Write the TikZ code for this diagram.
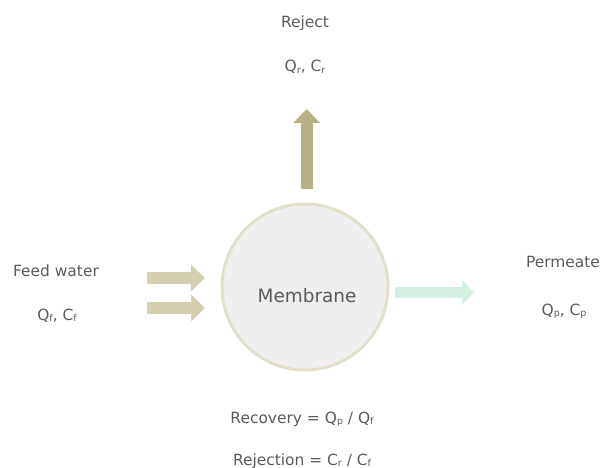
\documentclass[tikz,border=0pt]{standalone}
\usepackage{fontspec}
\setmainfont{DejaVu Sans}
\usetikzlibrary{arrows.meta}
\definecolor{txt}{HTML}{5A5A5A}
\definecolor{rejc}{HTML}{B8B185}
\definecolor{feedc}{HTML}{D3CFB0}
\definecolor{permc}{HTML}{D3EFDF}
\definecolor{memfill}{HTML}{EFEFEF}
\definecolor{memline}{HTML}{E3DFCB}
\newcommand{\sbs}[1]{\raisebox{-0.08em}{\fontsize{9.5}{9.5}\selectfont #1}}
\tikzset{
  lbl/.style={text=txt, font=\fontsize{15.5}{18}\selectfont, anchor=base, inner sep=0pt},
  blockarrow/.style={line width=12bp, -{Triangle[length=14bp, width=26bp]}},
}
\begin{document}
\begin{tikzpicture}[x=1bp, y=-1bp]
\useasboundingbox (0,0) rectangle (602,468);
\node[circle, draw=memline, line width=3bp, fill=memfill, minimum size=166bp, inner sep=0pt] (mem) at (305,287) {};
\node[lbl, font=\fontsize{18.5}{20}\selectfont] (memlbl) at (307,302) {Membrane};
% reject
\coordinate (rs) at (306.7,189);
\coordinate (re) at (306.7,109);
\draw[blockarrow, rejc] (rs) -- (re);
\node[lbl] (rej) at (305,28) {Reject};
\node[lbl] (rejq) at (305,72) {Q\sbs{r}, C\sbs{r}};
% feed
\coordinate (f1s) at (147,278);
\coordinate (f1e) at (205,278);
\coordinate (f2s) at (147,308);
\coordinate (f2e) at (205,308);
\draw[blockarrow, feedc] (f1s) -- (f1e);
\draw[blockarrow, feedc] (f2s) -- (f2e);
\node[lbl] (feed) at (56,277) {Feed water};
\node[lbl] (feedq) at (57,320) {Q\sbs{f}, C\sbs{f}};
% permeate
\coordinate (ps) at (395,292.5);
\coordinate (pe) at (474,292.5);
\draw[blockarrow, permc, line width=11bp, -{Triangle[length=12bp, width=25bp]}] (ps) -- (pe);
\node[lbl] (perm) at (563,268) {Permeate};
\node[lbl] (permq) at (564,315) {Q\sbs{p}, C\sbs{p}};
% formulas
\node[lbl] (rec) at (302,423) {Recovery = Q\sbs{p} / Q\sbs{f}};
\node[lbl] (rjn) at (302,465) {Rejection = C\sbs{r} / C\sbs{f}};
\end{tikzpicture}
\end{document}
